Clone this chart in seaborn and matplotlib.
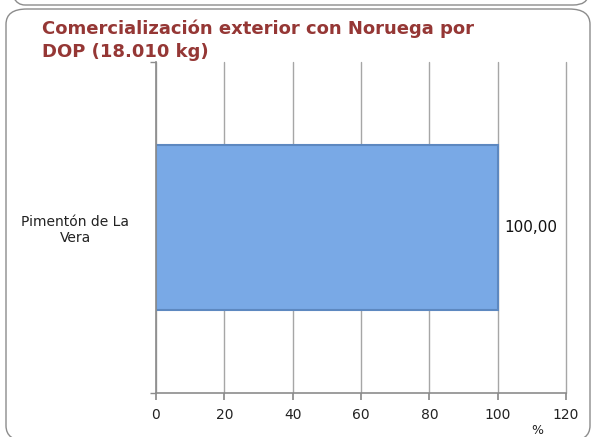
import numpy as np
import pandas as pd
from matplotlib import pyplot as plt
from matplotlib.patches import FancyBboxPatch
import seaborn as sns

categories = ['Pimentón de La\nVera']
values = [100.0]
xticks = [0, 20, 40, 60, 80, 100, 120]

title = 'Comercialización exterior con Noruega por\nDOP (18.010 kg)'

df = pd.DataFrame({'DOP': categories, 'pct': values})

sns.set_theme()
sns.set_style("white")
plt.rcParams['font.family'] = ['DejaVu Sans']

W, H = 595, 437
fig = plt.figure(figsize=(W / 100, H / 100), dpi=100)
ax = fig.add_axes([156 / W, 44 / H, 410 / W, 331 / H])

sns.barplot(data=df, x='pct', y='DOP', orient='h', ax=ax, width=0.5,
            color='#79a9e6', saturation=1, edgecolor='#5d88c0', linewidth=1.5)

ax.set_xlim(0, 120)
ax.set_ylim(0.5, -0.5)
ax.set_xticks(xticks)
ax.set_xticklabels([str(t) for t in xticks], fontsize=10, color='#222222')
ax.set_yticks([0])
ax.set_yticklabels(categories, fontsize=10, color='#222222', ha='center')
ax.tick_params(axis='y', pad=58, length=0)
ax.set_yticks([-0.5, 0.5], minor=True)
ax.tick_params(axis='y', which='minor', length=4, color='#8c8c8c', direction='out', left=True)
ax.tick_params(axis='x', length=5, color='#8c8c8c', direction='out', bottom=True, pad=6)

ax.grid(axis='x', color='#a6a6a6', linewidth=1)
for gl in ax.get_xgridlines():
    gl.set_clip_on(False)
ax.set_axisbelow(True)
for side in ['top', 'right']:
    ax.spines[side].set_visible(False)
for side in ['left', 'bottom']:
    ax.spines[side].set_color('#8c8c8c')
    ax.spines[side].set_linewidth(1.2)

ax.set_xlabel('%', fontsize=9, color='#222222')
ax.xaxis.set_label_coords((537 - 156) / 410, -0.095)
ax.set_ylabel('')

labels = [f'{v:.2f}'.replace('.', ',') for v in values]
ax.bar_label(ax.containers[0], labels=labels, padding=5, fontsize=11, color='#111111')

fig.text(42 / W, 1 - 19 / H, title, ha='left', va='top', fontsize=13,
         fontweight='bold', color='#953735', linespacing=1.4)

# rounded frames (one ending just below the top edge, one around the chart)
fig.patches.append(FancyBboxPatch((10 / W, 1 - 5 / H), 578 / W, 40 / H,
                                  boxstyle='round,pad=0,rounding_size=0.025',
                                  transform=fig.transFigure, fill=False,
                                  edgecolor='#8c8c8c', linewidth=1))
fig.patches.append(FancyBboxPatch((6 / W, -4 / H), 584 / W, (H - 5) / H,
                                  boxstyle='round,pad=0,rounding_size=0.035',
                                  transform=fig.transFigure, fill=False,
                                  edgecolor='#8c8c8c', linewidth=1))

fig.savefig('out.png', dpi=100)
